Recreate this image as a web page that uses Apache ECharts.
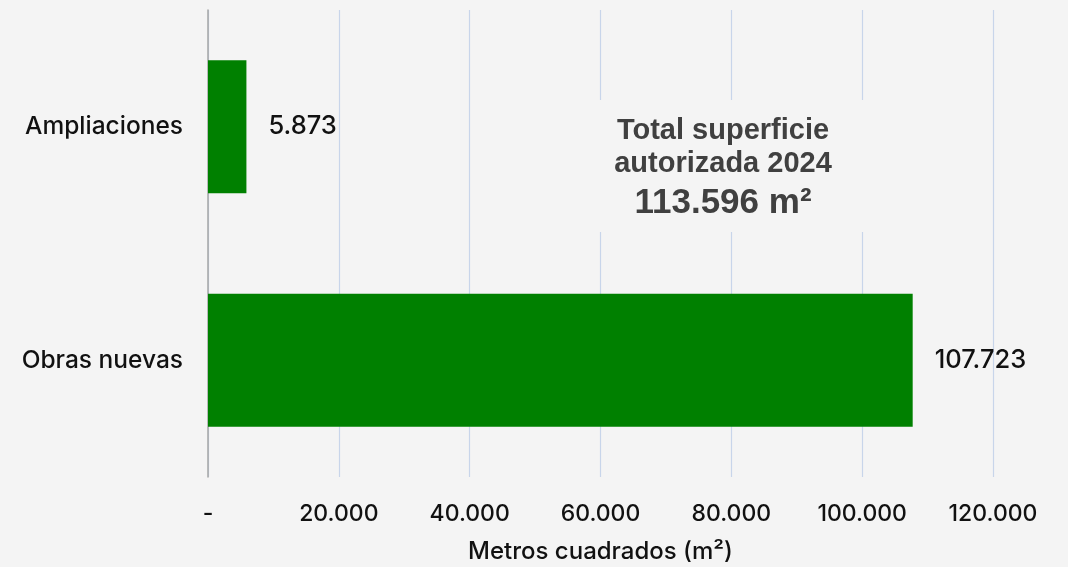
<!DOCTYPE html>
<html><head><meta charset="utf-8">
<script src="https://cdn.jsdelivr.net/npm/echarts@6/dist/echarts.min.js"></script>
<style>html,body{margin:0;padding:0;background:#f4f4f4}#c{width:1068px;height:567px}</style>
</head><body><div id="c"></div>
<script>
const categories = ['Ampliaciones', 'Obras nuevas'];
const values = [5873, 107723];
const axisMin = 0, axisMax = 120000, axisStep = 20000;
const axisTitle = 'Metros cuadrados (m²)';
const noteLines = ['Total superficie', 'autorizada 2024', '113.596 m²'];

function fmt(v) {
  if (v === 0) return '-';
  return String(Math.round(v)).replace(/\B(?=(\d{3})+(?!\d))/g, '.');
}

const chart = echarts.init(document.getElementById('c'));
chart.setOption({
  backgroundColor: '#f4f4f4',
  animation: false,
  grid: { left: 208, right: 75, top: 10, bottom: 90, outerBoundsMode: 'none', containLabel: false },
  xAxis: {
    type: 'value', min: axisMin, max: axisMax, interval: axisStep,
    axisLine: { show: false }, axisTick: { show: false },
    splitLine: { show: true, lineStyle: { color: '#c8d5ea', width: 1.2 } },
    axisLabel: { formatter: fmt, color: '#111', fontFamily: 'Inter', fontWeight: 500, fontSize: 23, margin: 26 },
    name: axisTitle, nameLocation: 'middle', nameGap: 63,
    nameTextStyle: { color: '#111', fontFamily: 'Inter', fontWeight: 500, fontSize: 24 }
  },
  yAxis: {
    type: 'category', data: categories, inverse: true,
    axisLine: { show: true, lineStyle: { color: '#a6a6a6', width: 1.5 } },
    axisTick: { show: false },
    axisLabel: { color: '#111', fontFamily: 'Inter', fontWeight: 500, fontSize: 24.5, margin: 25 }
  },
  series: [{
    type: 'bar', data: values, barWidth: 133,
    itemStyle: { color: '#008000' },
    label: { show: true, position: 'right', distance: 22, formatter: p => fmt(p.value),
      color: '#111', fontFamily: 'Inter', fontWeight: 500, fontSize: 25.5 }
  }],
  graphic: [
    { type: 'rect', left: 588, top: 100, z: 100, shape: { width: 282, height: 132 }, style: { fill: '#f4f4f4' } },
    { type: 'text', x: 723, y: 116, z: 101, style: { text: noteLines[0], align: 'center', font: 'bold 29px "Liberation Sans", Arial', fill: '#404040' } },
    { type: 'text', x: 723, y: 149, z: 101, style: { text: noteLines[1], align: 'center', font: 'bold 29px "Liberation Sans", Arial', fill: '#404040' } },
    { type: 'text', x: 723, y: 186, z: 101, style: { text: noteLines[2], align: 'center', font: 'bold 35px "Liberation Sans", Arial', fill: '#404040' } }
  ]
});
</script></body></html>
